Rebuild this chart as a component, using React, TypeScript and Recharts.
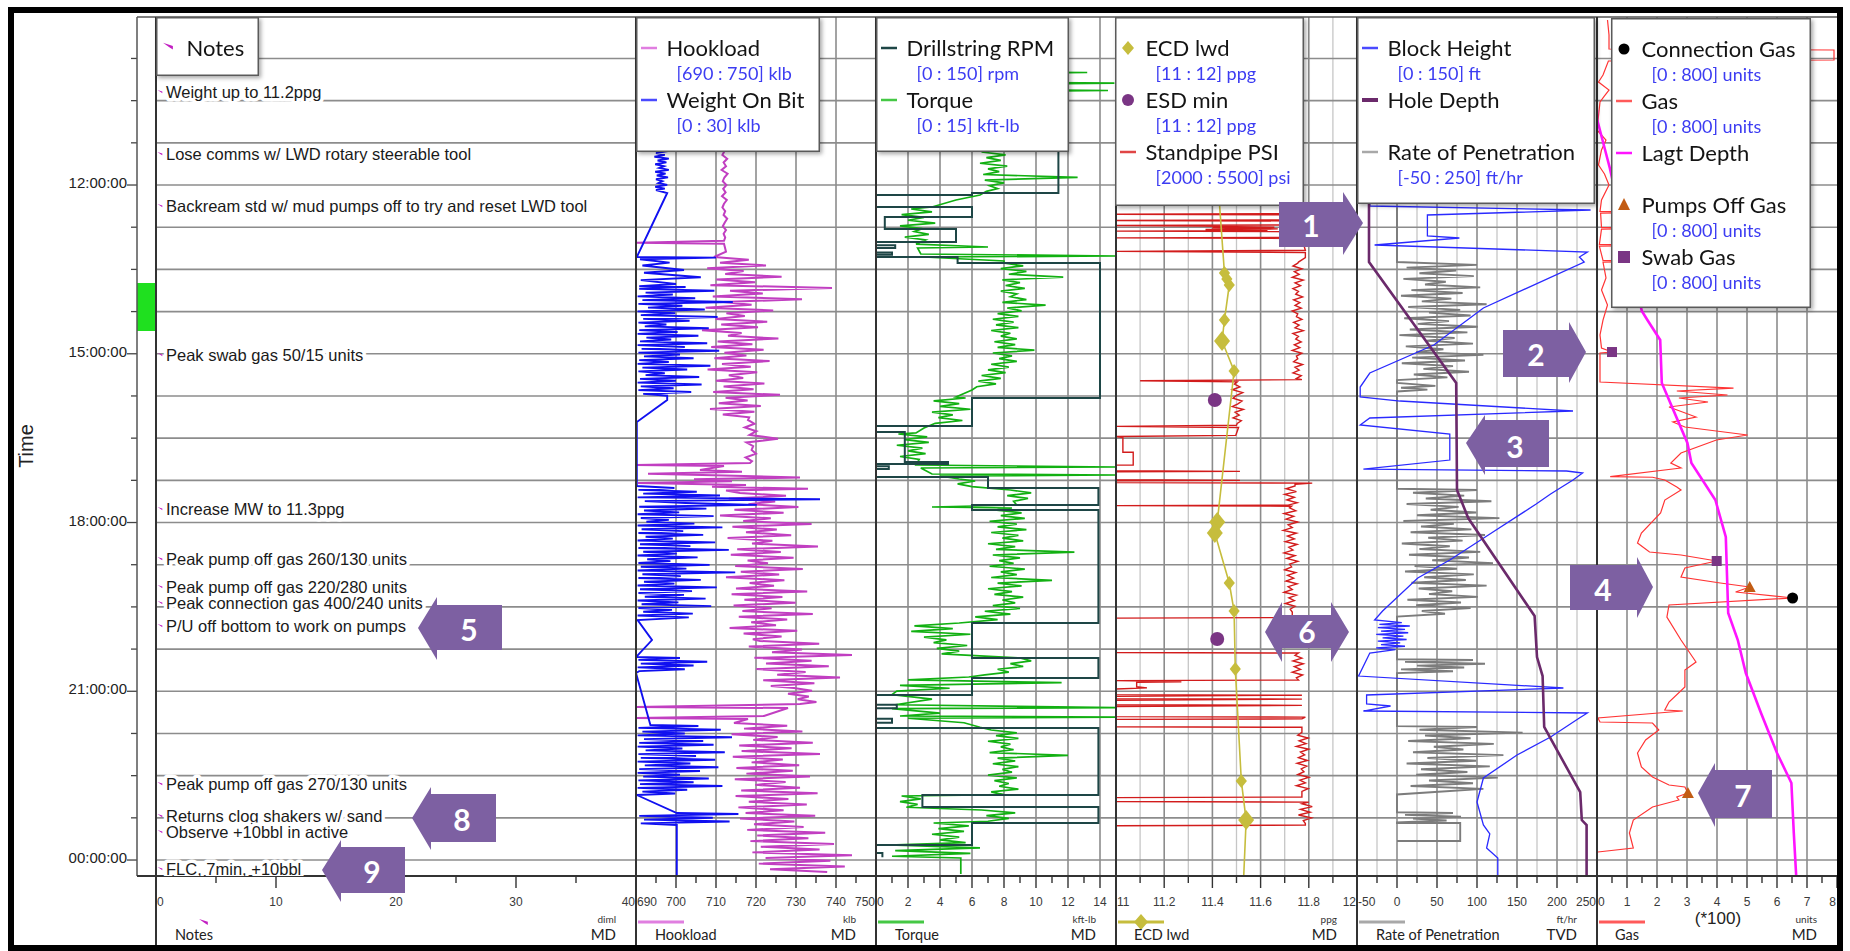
import React from 'react'
import { ComposedChart, Line, Scatter, XAxis, YAxis, ReferenceLine, ReferenceArea } from 'recharts'

// ---------- page / track geometry ----------
const W = 1850
const H = 951
const PLOT_TOP = 17
const PLOT_BOTTOM = 876
const AXIS_H = 30
const FONT_UI = 'Lato, "Noto Sans", sans-serif'
const FONT_LOG = '"Liberation Sans", Arial, sans-serif'

// time in decimal hours, 24 = midnight
const T0 = 9.013
const T1 = 24.284
const gridTimes = [9.75, 10.5, 11.25, 12, 12.75, 13.5, 14.25, 15, 15.75, 16.5, 17.25, 18, 18.75, 19.5, 20.25, 21, 21.75, 22.5, 23.25, 24]
const clockLabels = [12, 15, 18, 21, 24]
const activeSpan = [13.742, 14.595]

type Pt = { t: number; v: number }
const pts = (pairs: number[][]): Pt[] => pairs.map(([t, v]) => ({ t, v }))
// evenly sampled log segment: start time (h), sample interval (min), readings
const run = (t0: number, dtMin: number, vals: number[]): Pt[] => vals.map((v, i) => ({ t: t0 + (i * dtMin) / 60, v }))

// ---------- notes ----------
const noteTimes = [10.346, 11.449, 12.373, 15.022, 17.76, 18.649, 19.146, 19.431, 19.84, 22.649, 23.218, 23.502, 24.16]
const noteTexts = [
  'Weight up to 11.2ppg',
  'Lose comms w/ LWD rotary steerable tool',
  'Backream std w/ mud pumps off to try and reset LWD tool',
  'Peak swab gas 50/15 units',
  'Increase MW to 11.3ppg',
  'Peak pump off gas 260/130 units',
  'Peak pump off gas 220/280 units',
  'Peak connection gas 400/240 units',
  'P/U off bottom to work on pumps',
  'Peak pump off gas 270/130 units',
  'Returns clog shakers w/ sand',
  'Observe +10bbl in active',
  'FLC, 7min, +10bbl',
]
const notes = noteTimes.map((t, i) => ({ t, v: 0, text: noteTexts[i] }))

// ---------- hookload track ----------
const hookload: Pt[] = [
  ...pts([[9.013, 712.2], [11.413, 712.0]]),
  ...run(11.466, 4, [711.6, 712.8, 711.9, 712.5, 711.4, 712.9, 712.1, 711.7, 712.6, 711.8, 712.4, 711.5, 712.7, 712.0, 711.6, 712.3, 711.9, 712.8, 712.2, 711.7, 712.5, 711.9, 712.3]),
  ...pts([[12.991, 712.0], [13.026, 690], [13.044, 712], [13.186, 712.5]]),
  ...run(13.28, 3, [709.5, 718.2, 711.0, 722.5, 707.8, 716.9, 712.3, 726.4, 710.1, 719.8, 708.6, 739.0, 713.5, 721.7, 709.2, 731.5, 711.8, 718.9, 707.4, 724.3, 712.6, 717.2, 709.9, 722.8, 711.3, 720.5, 706.5, 716.4, 713.0, 725.6, 710.4, 719.1, 708.8, 721.9, 712.1, 717.6, 709.6, 723.4, 711.5, 718.7, 707.9, 720.3, 713.2, 716.8, 710.0, 722.1, 711.9, 719.4, 709.3, 726.0, 712.4, 717.9, 710.7, 721.2, 708.5, 719.6, 711.7, 718.3]),
  ...run(16.177, 4, [718.0, 719.6, 717.2, 720.1, 718.4, 725.5, 717.6, 719.3, 718.9, 720.0, 717.4, 719.0]),
  ...pts([[16.942, 718.5], [16.977, 690], [16.995, 712]]),
  ...run(17.066, 2, [706.0, 716.5, 693.0, 712.0, 731.0, 704.5, 714.0, 690.5, 717.5, 709.0, 733.0, 712.5]),
  ...run(17.475, 3, [716.0, 727.5, 713.2, 724.8, 718.1, 730.6, 714.6, 726.9, 711.0, 723.7, 716.8, 733.9, 714.1, 725.2, 717.5, 728.8, 712.9, 724.1, 719.0, 735.5, 715.3, 726.2, 713.7, 729.4, 717.9, 723.0, 714.8, 731.7, 716.2, 725.8, 712.5, 727.1, 718.4, 724.5, 715.0, 732.8, 713.9, 726.6, 717.1, 729.9, 714.4, 723.9, 716.6, 734.2, 715.7, 727.8, 718.8, 725.0, 713.4, 730.3, 716.9, 726.4, 719.2]),
  ...run(20.106, 3, [721.0, 735.8, 718.2, 731.5, 724.0, 744.0, 719.6, 733.9, 722.5, 738.2, 720.1, 732.4, 725.3, 741.0, 721.8, 734.6, 723.7]),
  ...run(20.942, 3, [729.5, 734.0, 728.0, 733.2, 730.4, 735.1]),
  ...pts([[21.226, 731], [21.28, 690], [21.298, 728], [21.44, 722], [21.475, 690], [21.493, 718]]),
  ...run(21.564, 3, [714.5, 727.8, 717.0, 731.6, 713.9, 725.4, 719.3, 734.2, 715.8, 728.9, 716.4, 736.0, 714.2, 726.7, 718.9, 730.8, 715.1, 729.2, 717.6, 733.5, 714.7, 727.4, 719.8, 731.0, 716.3, 735.4, 714.9, 728.1, 718.2, 732.7, 715.6, 726.9, 717.4, 734.8, 716.0, 729.6, 719.5, 731.9, 717.8, 737.3, 720.3, 733.1, 718.6, 739.5, 721.2, 735.9, 719.1, 744.0, 722.4, 738.6, 720.7, 742.2, 723.5, 737.8]),
]

const weightOnBit: Pt[] = [
  ...pts([[9.013, 3.0]]),
  ...run(11.265, 2, [3.1, 2.4, 3.9, 2.6, 4.0, 2.5, 3.6, 2.3, 4.1, 2.7, 3.8, 2.4, 3.5, 2.9, 4.1, 2.4, 3.7, 2.6, 4.0, 2.5, 3.3, 2.8, 3.9, 2.4, 3.6]),
  ...pts([[12.089, 2.5], [12.142, 3.9], [13.28, 0.1], [13.29, 10.0], [13.32, 0.5], [13.38, 4.2], [13.43, 0.8], [13.51, 6.0], [13.56, 1.0], [13.64, 8.1], [13.69, 0.6], [13.76, 5.0], [13.8, 0.4]]),
  ...run(13.813, 2, [6.2, 0.4, 9.8, 1.2, 4.6, 0.2, 7.4, 0.8, 12.1, 0.3, 5.8, 1.5, 8.6, 0.2, 4.9, 0.6, 10.2, 0.9, 6.7, 0.3, 3.8, 1.1, 9.1, 0.4, 5.2, 0.2, 7.8, 1.3, 4.4, 0.5, 8.9, 0.2, 6.1, 0.7, 10.4, 0.3, 5.5, 1.0, 7.2, 0.4, 4.1, 0.2, 9.3, 0.8, 6.4, 0.3, 3.6, 1.2, 7.9, 0.5, 5.0, 0.2, 8.2, 0.6, 4.7, 0.3, 6.9, 0.9, 3.9]),
  ...pts([[15.822, 3.9], [16.213, 0.1], [17.351, 0.1]]),
  ...run(17.386, 2, [4.8, 0.3, 7.6, 0.9, 10.5, 0.2, 23.0, 1.1, 6.2, 15.1, 0.4, 8.8, 1.0, 5.4, 0.2, 9.7, 0.6, 4.1, 1.3, 7.3, 0.2, 10.8, 0.7, 5.9, 0.3, 8.4, 1.2, 4.6, 0.2, 9.9, 0.5, 6.8, 0.3, 11.6, 0.9, 5.1, 0.2, 7.7, 1.4, 4.3, 0.3, 9.2, 0.6, 6.3, 0.2, 12.4, 0.8, 5.6, 0.3, 8.1, 1.0, 4.8, 0.2, 10.1, 0.5, 7.0, 0.3, 6.0, 1.1, 8.7, 0.2, 5.3, 0.7, 9.4, 0.3, 4.5, 0.9, 7.1, 0.2, 6.6]),
  ...pts([[19.733, 0.2], [20.089, 2.0], [20.391, 0]]),
  ...run(20.409, 2, [5.5, 0.3, 8.9, 0.6, 7.2, 0.2, 6.1, 0.4]),
  ...pts([[20.675, 0], [21.6, 1.8]]),
  ...run(21.617, 2, [7.8, 0.3, 10.6, 0.8, 6.1, 0.2, 12.0, 1.0, 8.4, 0.4, 9.7, 0.2, 5.8, 1.2, 11.1, 0.3, 7.5, 0.6, 9.9, 0.2, 6.8, 1.1, 10.3, 0.4, 8.0, 0.2, 5.5, 0.9, 9.1, 0.3, 7.2, 0.5, 10.8, 0.2, 6.4, 0.8, 4.9]),
  ...pts([[22.844, 0.1], [23.164, 5.1]]),
  ...run(23.182, 2, [12.8, 0.4, 9.6, 1.0, 11.7, 0.6]),
  ...pts([[23.377, 5.1], [24.284, 5.1]]),
]

// ---------- torque track ----------
const drillstringRpm = pts([
  [9.013, 114], [12.142, 114], [12.142, 60], [12.177, 60], [12.177, 0], [12.391, 0], [12.391, 60], [12.569, 60], [12.569, 5.5], [12.782, 5.5], [12.782, 50], [13.013, 50], [13.013, 0], [13.07, 0], [13.07, 12], [13.12, 12], [13.12, 0], [13.2, 0], [13.2, 10], [13.24, 10], [13.24, 0], [13.28, 0], [13.28, 51], [13.386, 51], [13.386, 140], [15.786, 140], [15.786, 60], [16.284, 60], [16.284, 0], [16.391, 0], [16.391, 18], [16.924, 18], [16.924, 45], [16.96, 45], [16.96, 0], [17.0, 0], [17.0, 8], [17.05, 8], [17.05, 0], [17.191, 0], [17.191, 70], [17.386, 70], [17.386, 139], [17.689, 139], [17.689, 60], [17.777, 60], [17.777, 139], [19.786, 139], [19.786, 60], [20.409, 60], [20.409, 139], [20.764, 139], [20.764, 60], [21.066, 60], [21.066, 0], [21.24, 0], [21.24, 13], [21.3, 13], [21.3, 0], [21.49, 0], [21.49, 10], [21.56, 10], [21.56, 0], [21.653, 0], [21.653, 139], [22.844, 139], [22.844, 29], [23.057, 29], [23.057, 139], [23.342, 139], [23.342, 60], [23.733, 60], [23.733, 0], [23.875, 0], [23.875, 4], [23.95, 4],
])

const torque: Pt[] = [
  ...pts([[9.013, 7.0], [9.9, 7.2], [9.99, 7.0], [10.0, 13.2], [10.02, 7.0], [10.17, 7.4], [10.19, 14.9], [10.21, 7.1], [10.3, 7.3], [10.32, 14.5], [10.34, 7.0], [11.37, 7.4]]),
  ...run(11.413, 3, [6.6, 8.1, 6.9, 7.8, 6.5, 8.2, 7.0, 7.7, 6.7, 12.6, 6.8, 8.0, 7.1, 7.6, 6.9]),
  ...pts([[12.177, 6.5], [12.266, 5.0], [12.391, 3.5]]),
  ...run(12.426, 3, [2.2, 3.5, 1.6, 3.0, 2.0, 3.7, 1.5, 2.9, 2.4, 3.3, 1.8, 3.1]),
  ...pts([[13.049, 2.5], [13.102, 7.0], [13.12, 2.6], [13.226, 2.8], [13.262, 15.0], [13.28, 3.0], [13.351, 8.0]]),
  ...run(13.386, 3, [8.0, 9.2, 7.8, 9.4, 8.3, 11.7, 7.9, 9.0, 8.1, 9.3, 7.8, 8.8, 8.4, 9.4, 7.9, 10.6, 8.2, 9.1, 7.6, 8.9, 7.3, 8.6, 7.5, 8.9, 7.2, 8.4, 7.8, 8.8, 7.4, 8.7, 7.6, 9.9, 7.3, 8.5, 7.7, 8.8, 7.2, 8.3, 7.0, 8.1, 6.6, 7.8, 6.4, 7.5, 6.3]),
  ...pts([[15.644, 6.0], [15.769, 5.0]]),
  ...run(15.786, 3, [5.6, 3.6, 5.2, 4.0, 5.9, 3.5, 4.8, 3.9, 5.4, 3.7]),
  ...pts([[16.32, 3.0], [16.408, 2.5]]),
  ...run(16.426, 3, [1.4, 3.2, 1.8, 3.3, 1.3, 2.9, 2.0, 3.1, 1.5, 2.7]),
  ...pts([[16.977, 2.5], [17.013, 15.0], [17.031, 2.8], [17.137, 3.5], [17.155, 15.0], [17.173, 4.0], [17.226, 5.2]]),
  ...run(17.262, 3, [6.2, 5.1, 6.0]),
  ...run(17.422, 3, [8.4, 9.7, 8.2, 9.5, 8.6]),
  ...pts([[17.689, 8.8], [17.724, 3.5], [17.742, 8.5]]),
  ...run(17.777, 3, [7.4, 9.1, 7.8, 9.3, 7.1, 8.8, 7.6, 9.4, 7.2, 8.9, 7.9, 9.2, 7.0, 8.7, 7.5, 12.4, 7.3, 9.0, 7.7, 8.6, 7.1, 9.3, 7.8, 8.8, 7.2, 11.0, 7.6, 9.1, 7.0, 8.5, 7.4, 9.2, 7.9, 8.7, 7.3, 9.0, 6.8, 8.4, 6.2, 7.6]),
  ...run(19.786, 3, [5.2, 2.4, 4.8, 2.2, 5.9, 3.0, 4.4, 3.6, 5.7, 3.8, 5.2, 4.1]),
  ...run(20.409, 3, [9.0, 9.7, 8.4, 9.2, 7.6, 8.3, 6.8]),
  ...run(20.746, 3, [5.8, 2.0, 11.6, 1.5, 4.6, 1.3]),
  ...pts([[21.06, 1.0], [21.14, 3.5], [21.24, 1.2], [21.29, 15.0], [21.31, 1.0], [21.39, 4.0], [21.44, 1.5], [21.46, 15.0], [21.48, 2.0], [21.56, 5.5], [21.64, 6.5]]),
  ...run(21.689, 3, [7.2, 8.8, 7.5, 8.9, 7.0, 8.4, 7.8, 8.6, 7.1, 12.0, 7.6, 8.7, 7.3, 8.9, 7.9, 8.5, 7.0, 8.8, 7.4, 8.3, 7.7, 8.9, 7.2, 8.0]),
  ...run(22.862, 3, [1.6, 2.8, 1.5, 2.6, 1.9]),
  ...run(23.111, 3, [6.6, 8.7, 6.9, 8.3, 7.0]),
  ...run(23.342, 3, [3.6, 5.8, 3.9, 5.5, 3.5, 5.2, 4.0, 5.6]),
  ...run(23.733, 3, [0.8, 6.5, 1.2, 5.9, 1.0]),
  ...pts([[23.964, 5.3], [24.25, 5.3]]),
]

// ---------- ECD / pressure track ----------
const ecdLwd = pts([
  [9.013, 11.41], [12.373, 11.43], [13.564, 11.45], [13.777, 11.47], [14.4, 11.45], [14.773, 11.44], [15.306, 11.49], [17.991, 11.42], [18.186, 11.41], [19.075, 11.47], [19.573, 11.49], [20.604, 11.495], [22.595, 11.52], [23.289, 11.54], [24.284, 11.53],
])
// lwd samples (time, ppg, marker size class)
const ecdSamples = [
  [13.564, 11.45, 1], [13.67, 11.46, 1], [13.777, 11.47, 1], [14.4, 11.45, 1], [14.773, 11.44, 2], [15.306, 11.49, 1], [17.991, 11.42, 2], [18.186, 11.41, 2], [19.075, 11.47, 1], [19.573, 11.49, 1], [20.604, 11.495, 1], [22.595, 11.52, 1], [23.289, 11.54, 2],
].map(([t, v, s]) => ({ t, v, s }))
const esdMin = pts([[15.822, 11.41], [20.071, 11.42]])

const standpipe: Pt[] = [
  ...pts([[9.013, 4100], [12.31, 4100], [12.37, 4700], [12.51, 4700], [12.52, 2000], [12.53, 4700], [12.62, 4650], [12.63, 2000], [12.64, 4700], [12.71, 4700], [12.72, 2000], [12.73, 3200], [12.75, 4300], [12.76, 3400], [12.78, 4350], [12.79, 3300], [12.81, 4200], [12.82, 2000], [12.83, 4700], [12.93, 4700], [12.94, 2000], [12.95, 4700], [13.16, 4750], [13.18, 2000], [13.2, 4750], [13.29, 4750], [13.37, 4650]]),
  ...run(13.39, 3, [4640, 4570, 4700, 4590, 4660, 4560, 4720, 4600, 4680, 4570, 4650, 4610, 4710, 4580, 4670, 4600, 4690, 4560, 4640, 4620, 4700, 4580, 4660, 4600, 4720, 4570, 4650, 4610, 4690, 4590, 4670, 4560, 4700, 4620, 4640, 4580, 4710, 4600, 4660, 4570, 4690, 4620]),
  ...pts([[15.46, 4700], [15.48, 2350], [15.5, 3760]]),
  ...run(15.54, 3, [3720, 3800, 3690, 3840, 3750, 3700, 3830, 3770, 3690, 3850, 3730, 3790, 3700, 3820, 3760]),
  ...pts([[16.27, 3750], [16.29, 2000], [16.31, 3780], [16.45, 3740], [16.47, 2000], [16.49, 2100], [16.75, 2100], [16.75, 2250], [16.98, 2250], [16.98, 2000], [17.08, 2000], [17.09, 3800], [17.1, 2000], [17.24, 2000], [17.25, 3800], [17.26, 2000], [17.29, 2000], [17.3, 4850], [17.32, 4600]]),
  ...run(17.35, 3, [4600, 4470, 4620, 4450, 4590, 4480, 4630]),
  ...pts([[17.69, 4500], [17.7, 2000], [17.71, 4550]]),
  ...run(17.74, 3, [4520, 4610, 4440, 4580, 4470, 4640, 4500, 4560, 4430, 4620, 4490, 4590, 4460, 4630, 4510, 4570, 4440, 4600, 4480, 4640, 4520, 4550, 4450, 4610, 4490, 4580, 4470, 4630, 4500, 4560, 4440, 4620, 4510, 4590, 4460, 4600, 4530]),
  ...pts([[19.59, 4560], [19.69, 4560], [19.7, 2000], [20.31, 2000], [20.32, 4650]]),
  ...run(20.36, 3, [4600, 4700, 4570, 4720, 4590, 4680, 4560, 4710, 4620]),
  ...pts([[20.8, 4650], [20.81, 2000], [20.83, 2950], [20.84, 2300], [20.92, 2300], [20.94, 2450], [20.96, 2000], [21.06, 2000], [21.07, 4700], [21.09, 2000], [21.13, 2000], [21.14, 4700], [21.16, 2000], [21.24, 2000], [21.25, 4700], [21.27, 2000], [21.45, 2000], [21.46, 4750], [21.49, 4700], [21.5, 2000], [21.63, 2000], [21.64, 4700], [21.69, 4700]]),
  ...run(21.73, 3, [4700, 4640, 4790, 4660, 4760, 4620, 4800, 4680, 4740, 4650, 4780, 4630, 4770, 4690, 4730, 4640, 4800, 4670, 4750, 4620, 4790, 4700]),
  ...pts([[22.82, 4700], [22.88, 4700], [22.89, 2000], [22.96, 2000], [22.97, 4800]]),
  ...run(23.0, 3, [4700, 4850, 4680, 4820, 4650, 4840, 4720]),
  ...pts([[23.35, 4750], [23.38, 4750], [23.39, 2000], [23.43, 2000]]),
]

// ---------- ROP / block / depth track ----------
const blockHeight = pts([
  [9.013, 8], [12.373, 8], [12.444, 146], [12.533, 44], [12.906, 44], [12.942, 64], [13.066, 11], [13.191, 144], [13.28, 139], [13.369, 142], [14.186, 79], [14.844, 48], [15.342, 8], [15.591, 2], [15.768, 2], [15.84, 27], [16.017, 135], [16.142, 8], [16.266, 2], [16.426, 58], [16.889, 58], [17.049, 4], [17.084, 131], [17.12, 141], [17.244, 135], [17.493, 121], [17.671, 112], [18.169, 85], [18.666, 58], [18.986, 38], [19.573, 16], [19.733, 11],
  [19.78, 28], [19.81, 14], [19.84, 33], [19.87, 13], [19.9, 30], [19.93, 15], [19.96, 32], [19.99, 12], [20.02, 29], [20.05, 16], [20.08, 31], [20.11, 13], [20.14, 27], [20.17, 15], [20.2, 30], [20.23, 12], [20.26, 24],
  [20.32, 8], [20.729, 1], [20.942, 129], [21.066, 6], [21.226, 6], [21.262, 21], [21.351, 4], [21.386, 144], [21.475, 139], [21.813, 121], [22.133, 100], [22.542, 79], [22.969, 75], [23.377, 79], [23.537, 83], [23.786, 81], [23.964, 88], [24.284, 88],
])

const holeDepth = pts([
  [9.013, 13015], [12.373, 13015], [13.369, 13015], [15.52, 13124], [17.422, 13125], [17.92, 13139], [19.662, 13222], [20.391, 13225], [20.729, 13232], [21.635, 13234], [22.791, 13279], [23.289, 13281], [23.377, 13287], [24.284, 13287],
])

const rop: Pt[] = [
  ...pts([[12.4, 0], [13.35, 0]]),
  ...run(13.369, 3, [0, 100, 12, 74, 28, 96, 8, 61, 35, 104, 18, 82, 5, 68, 31, 112, 14, 79, 40, 92, 9, 65, 26, 101, 16, 88, 3, 72, 37, 95, 11, 58, 24, 108, 19, 85, 6, 70, 33, 90, 21, 63, 0, 0]),
  ...run(15.57, 2, [48, 5, 38, 0]),
  ...pts([[15.72, 0], [17.4, 0]]),
  ...run(17.422, 3, [100, 20, 84, 36, 118, 12, 77, 42, 99, 25, 128, 8, 71, 30, 93, 17, 110, 39, 82, 6, 66, 28, 104, 15, 90, 44, 120, 22, 75, 10, 96, 34, 86, 18, 112, 27, 69, 40, 101, 13, 80, 24, 92, 31, 60, 0]),
  ...pts([[19.7, 0], [20.43, 0]]),
  ...run(20.444, 2, [95, 10, 110, 25, 84, 5, 70, 0]),
  ...pts([[20.72, 0], [21.62, 0]]),
  ...run(21.635, 3, [100, 28, 157, 35, 92, 14, 121, 46, 83, 20, 133, 38, 99, 12, 116, 30, 88, 24, 126, 40, 95, 17, 108, 52, 0]),
  ...pts([[22.88, 0], [23.15, 0]]),
  ...run(23.164, 2, [70, 10, 80, 20, 62, 0]),
  ...pts([[23.342, 0], [23.342, 79], [23.662, 79], [23.662, 0]]),
]

// ---------- gas track ----------
const gas = pts([
  [9.066, 35], [9.333, 40], [9.582, 40], [9.6, 790], [9.777, 790], [9.795, 38], [10.044, 20], [10.169, 5], [10.311, 40], [10.417, 25], [10.524, 10], [11.022, 0], [11.2, 30], [11.377, 15], [11.644, 5], [11.804, 25], [12.0, 40], [12.266, 15], [12.47, 10], [12.48, 260], [12.5, 12], [12.754, 15], [12.764, 240], [12.784, 15], [13.056, 8], [13.066, 280], [13.086, 8], [13.341, 20], [13.351, 220], [13.371, 20], [13.653, 30], [13.866, 15], [14.133, 35], [14.4, 20], [14.666, 10], [14.897, 15], [14.969, 50], [14.986, 10], [15.502, 10], [15.609, 455], [15.662, 266], [15.733, 435], [15.786, 273], [15.857, 370], [15.946, 240], [16.124, 330], [16.213, 253], [16.302, 293], [16.444, 502], [16.533, 398], [16.764, 280], [16.942, 246], [17.031, 280], [17.185, 44], [17.195, 185], [17.244, 226], [17.369, 266], [17.422, 280], [17.6, 226], [17.831, 212], [18.186, 148], [18.364, 135], [18.524, 175], [18.577, 280], [18.684, 399], [18.809, 293], [18.969, 280], [19.075, 411], [19.146, 509], [19.235, 462], [19.342, 652], [19.466, 240], [19.68, 233], [20.089, 280], [20.48, 330], [20.622, 293], [20.924, 293], [21.191, 240], [21.333, 226], [21.351, 286], [21.475, 3], [21.546, 10], [21.564, 185], [21.689, 206], [21.866, 162], [22.097, 135], [22.346, 148], [22.524, 185], [22.666, 240], [22.702, 293], [22.809, 303], [22.88, 266], [22.933, 273], [23.057, 185], [23.289, 121], [23.52, 108], [23.786, 121], [23.857, 3],
])
const lagtDepth = pts([
  [10.666, 13000], [10.826, 13000], [11.697, 13016], [14.24, 13056], [14.4, 13063], [14.755, 13079], [15.52, 13081], [16.586, 13113], [16.942, 13118], [17.6, 13148], [18.257, 13161], [19.609, 13164], [20.089, 13176], [20.675, 13186], [21.386, 13205], [22.097, 13225], [22.631, 13243], [23.52, 13246], [24.284, 13249],
])
const swabGas = pts([[14.969, 50], [18.684, 399]])
const pumpsOffGas = pts([[19.146, 509], [22.809, 303]])
const connectionGas = pts([[19.342, 652]])

// ---------- bottom scales ----------
const notesTicks = [0, 5, 10, 15, 20, 25, 30, 35, 40]
const notesLabels = [0, 10, 20, 30, 40]
const hookTicks = [690, 695, 700, 705, 710, 715, 720, 725, 730, 735, 740, 745, 750]
const hookLabels = [690, 700, 710, 720, 730, 740, 750]
const hookGrid = [700, 710, 720, 730, 740]
const torqueTicks = [0, 1, 2, 3, 4, 5, 6, 7, 8, 9, 10, 11, 12, 13, 14, 15]
const torqueLabels = [0, 2, 4, 6, 8, 10, 12, 14]
const torqueGrid = [2, 4, 6, 8, 10, 12, 14]
const ecdTicks = [11, 11.1, 11.2, 11.3, 11.4, 11.5, 11.6, 11.7, 11.8, 11.9, 12]
const ecdLabels = [11, 11.2, 11.4, 11.6, 11.8, 12]
const ecdGrid = [11.2, 11.4, 11.6, 11.8]
const ecdGridMinor = [11.1, 11.3, 11.5, 11.7, 11.9]
const ropTicks = [-50, -25, 0, 25, 50, 75, 100, 125, 150, 175, 200, 225, 250]
const ropLabels = [-50, 0, 50, 100, 150, 200, 250]
const ropGrid = [0, 50, 100, 150, 200]
const ropGridMinor = [-25, 25, 75, 125, 175, 225]
const gasTicks = [0, 50, 100, 150, 200, 250, 300, 350, 400, 450, 500, 550, 600, 650, 700, 750, 800]
const gasLabels = [0, 100, 200, 300, 400, 500, 600, 700, 800]
const gasGrid = [100, 200, 300, 400, 500, 600, 700]

const fmtNum = (v: number) => (Number.isInteger(v) ? String(v) : v.toFixed(1))
const fmtClock = (h: number) => `${String(h % 24).padStart(2, '0')}:00:00`
const near = (a: number, b: number) => Math.abs(a - b) < 1e-6

function bottomTick(labels: number[], domain: [number, number], fmt: (v: number) => string) {
  return (props: any) => {
    const { x, y, payload } = props
    const v: number = payload.value
    const major = labels.some((l) => near(l, v))
    const anchor = near(v, domain[0]) ? 'start' : near(v, domain[1]) ? 'end' : 'middle'
    const tx = anchor === 'start' ? x + 1 : anchor === 'end' ? x - 1 : x
    return (
      <g>
        <line x1={x} x2={x} y1={y} y2={y + (major ? 12 : 7)} stroke="#333" strokeWidth={1.4} />
        {major && (
          <text x={tx} y={y + 30} textAnchor={anchor} fontSize={12} fontFamily={FONT_LOG} fill="#3a3a3a">
            {fmt(v)}
          </text>
        )}
      </g>
    )
  }
}

function TimeTick(props: any) {
  const { x, y, payload } = props
  const h: number = payload.value
  const major = clockLabels.some((c) => near(c, h))
  return (
    <g>
      <line x1={x - (major ? 10 : 6)} x2={x} y1={y} y2={y} stroke="#444" strokeWidth={1.3} />
      {major && (
        <text x={x - 10} y={y + 3} textAnchor="end" fontSize={15} fontFamily={FONT_LOG} fill="#222">
          {fmtClock(h)}
        </text>
      )}
    </g>
  )
}

// ---------- marker shapes ----------
const flagPath = (x: number, y: number, s: number) => `M${x},${y - s * 0.5}L${x + s * 2.2},${y + s * 0.2}L${x + s * 2.2},${y + s}L${x + s * 1.4},${y + s * 0.5}Z`

function NoteMark(p: any) {
  const { cx, cy, payload } = p
  return (
    <g>
      <text x={cx + 10} y={cy} dy="0.36em" fontSize={16.5} fontFamily={FONT_LOG} fill="#1a1a1a" stroke="#fff" strokeWidth={7} strokeLinejoin="round" paintOrder="stroke">
        {payload.text}
      </text>
      <path d={flagPath(cx + 1.5, cy - 1, 2.2)} fill="#c21fc2" />
    </g>
  )
}
function EcdMark(p: any) {
  const { cx, cy, payload } = p
  const s = payload.s === 2 ? 10 : 7
  return <path d={`M${cx},${cy - s}L${cx + s * 0.8},${cy}L${cx},${cy + s}L${cx - s * 0.8},${cy}Z`} fill="#c6bd3d" />
}
const EsdMark = (p: any) => <circle cx={p.cx} cy={p.cy} r={7} fill="#7a3584" />
const SwabMark = (p: any) => <rect x={p.cx - 5} y={p.cy - 5} width={10} height={10} fill="#7a3584" />
const PumpsOffMark = (p: any) => <path d={`M${p.cx},${p.cy - 6}L${p.cx + 6},${p.cy + 5}L${p.cx - 6},${p.cy + 5}Z`} fill="#c25c14" />
const ConnectionMark = (p: any) => <circle cx={p.cx} cy={p.cy} r={5.5} fill="#000" />

// ---------- one log track ----------
type AxisDef = { id: string; domain: [number, number] }
function Track(props: {
  left: number
  width: number
  domain: [number, number]
  ticks: number[]
  labels: number[]
  fmt?: (v: number) => string
  grid?: number[]
  minorGrid?: number[]
  extraAxes?: AxisDef[]
  children?: React.ReactNode
}) {
  const { left, width, domain, ticks, labels, fmt = fmtNum, grid = [], minorGrid = [], extraAxes = [], children } = props
  return (
    <div style={{ position: 'absolute', left, top: 0 }}>
      <ComposedChart layout="vertical" width={width} height={H} margin={{ top: PLOT_TOP, right: 0, bottom: H - PLOT_BOTTOM - AXIS_H, left: 0 }}>
        <YAxis type="number" dataKey="t" domain={[T0, T1]} allowDataOverflow hide />
        <XAxis
          xAxisId="axis"
          type="number"
          dataKey="v"
          domain={domain}
          allowDataOverflow
          ticks={ticks}
          interval={0}
          height={AXIS_H}
          tickSize={0}
          tickMargin={0}
          tickLine={false}
          axisLine={{ stroke: '#333', strokeWidth: 2 }}
          tick={bottomTick(labels, domain, fmt)}
        />
        {extraAxes.map((a) => (
          <XAxis key={a.id} xAxisId={a.id} type="number" dataKey="v" domain={a.domain} allowDataOverflow hide height={0} />
        ))}
        {minorGrid.map((v) => (
          <ReferenceLine key={'m' + v} xAxisId="axis" x={v} stroke="#c6c6c6" strokeWidth={1.3} />
        ))}
        {grid.map((v) => (
          <ReferenceLine key={'g' + v} xAxisId="axis" x={v} stroke="#8c8c8c" strokeWidth={1.6} />
        ))}
        {gridTimes.map((t) => (
          <ReferenceLine key={'h' + t} xAxisId="axis" y={t} stroke="#8c8c8c" strokeWidth={1.6} />
        ))}
        {children}
      </ComposedChart>
    </div>
  )
}

function TimeStrip() {
  return (
    <div style={{ position: 'absolute', left: 0, top: 0 }}>
      <ComposedChart layout="vertical" width={156} height={H} margin={{ top: PLOT_TOP, right: 0, bottom: H - PLOT_BOTTOM, left: 0 }}>
        <XAxis type="number" domain={[0, 1]} allowDataOverflow hide />
        <YAxis
          type="number"
          dataKey="t"
          domain={[T0, T1]}
          allowDataOverflow
          width={137}
          ticks={gridTimes}
          interval={0}
          tickSize={0}
          tickMargin={0}
          tickLine={false}
          axisLine={false}
          tick={TimeTick}
        />
        <ReferenceArea x1={0} x2={1} y1={activeSpan[0]} y2={activeSpan[1]} ifOverflow="visible" fill="#1fe01f" fillOpacity={1} stroke="none" />
      </ComposedChart>
    </div>
  )
}

// ---------- legend panels ----------
type Key = { name: string; range?: string; icon: 'line' | 'thick' | 'diamond' | 'dot' | 'bigdot' | 'triangle' | 'square' | 'flag'; color: string }
function KeyIcon({ icon, color, cy }: { icon: Key['icon']; color: string; cy: number }) {
  const cx = 13
  switch (icon) {
    case 'line':
      return <line x1={5} x2={21} y1={cy} y2={cy} stroke={color} strokeWidth={2.5} />
    case 'thick':
      return <line x1={5} x2={21} y1={cy} y2={cy} stroke={color} strokeWidth={4} />
    case 'diamond':
      return <path d={`M${cx},${cy - 7}L${cx + 6},${cy}L${cx},${cy + 7}L${cx - 6},${cy}Z`} fill={color} />
    case 'dot':
      return <circle cx={cx} cy={cy} r={6} fill={color} />
    case 'bigdot':
      return <circle cx={cx} cy={cy} r={5.5} fill={color} />
    case 'triangle':
      return <path d={`M${cx},${cy - 7}L${cx + 6},${cy + 5}L${cx - 6},${cy + 5}Z`} fill={color} />
    case 'square':
      return <rect x={cx - 6} y={cy - 6} width={12} height={12} fill={color} />
    default:
      return <path d={flagPath(7, cy - 3, 4.5)} fill={color} />
  }
}

function LegendPanel({ left, top, width, height, keys }: { left: number; top: number; width: number; height: number; keys: Key[] }) {
  return (
    <svg width={width + 4} height={height + 4} style={{ position: 'absolute', left, top, filter: 'drop-shadow(2px 2px 2px rgba(0,0,0,0.35))' }}>
      <rect x={0.75} y={0.75} width={width - 1.5} height={height - 1.5} fill="#fff" stroke="#5a5a5a" strokeWidth={1.5} />
      {keys.map((k, i) => {
        const cy = 31 + 52 * i
        return (
          <g key={k.name}>
            <KeyIcon icon={k.icon} color={k.color} cy={cy} />
            <text x={30.5} y={cy} dy="0.36em" fontSize={22} fontFamily={FONT_UI} fill="#141414">
              {k.name}
            </text>
            {k.range && (
              <text x={40.5} y={cy + 26} dy="0.36em" fontSize={18} fontFamily={FONT_UI} fill="#3c3cf2">
                {k.range}
              </text>
            )}
          </g>
        )
      })}
    </svg>
  )
}

// ---------- callout arrows ----------
type Callout = { n: string; dir: 'L' | 'R'; tip: number; base: number; end: number; b0: number; b1: number; h0: number; h1: number; mid: number; tx: number; ty: number }
const callouts: Callout[] = [
  { n: '1', dir: 'R', end: 1279, base: 1343, tip: 1363, b0: 202, b1: 247, h0: 192, h1: 255, mid: 223, tx: 1311, ty: 226 },
  { n: '2', dir: 'R', end: 1503, base: 1569, tip: 1586, b0: 330, b1: 377, h0: 322, h1: 383, mid: 352, tx: 1536, ty: 355 },
  { n: '3', dir: 'L', tip: 1466, base: 1485, end: 1549, b0: 420, b1: 467, h0: 415, h1: 475, mid: 443, tx: 1515, ty: 447 },
  { n: '4', dir: 'R', end: 1570, base: 1637, tip: 1653, b0: 565, b1: 610, h0: 557, h1: 618, mid: 587, tx: 1603, ty: 590 },
  { n: '5', dir: 'L', tip: 418, base: 437, end: 502, b0: 605, b1: 650, h0: 597, h1: 660, mid: 628, tx: 469, ty: 630 },
  { n: '7', dir: 'L', tip: 1698, base: 1715, end: 1772, b0: 770, b1: 818, h0: 763, h1: 827, mid: 793, tx: 1743, ty: 796 },
  { n: '8', dir: 'L', tip: 412, base: 431, end: 496, b0: 794, b1: 842, h0: 787, h1: 850, mid: 818, tx: 462, ty: 820 },
  { n: '9', dir: 'L', tip: 322, base: 341, end: 405, b0: 847, b1: 893, h0: 840, h1: 902, mid: 870, tx: 372, ty: 872 },
]

function calloutPath(c: Callout) {
  if (c.dir === 'R') {
    return `M${c.end},${c.b0}L${c.base},${c.b0}L${c.base},${c.h0}L${c.tip},${c.mid}L${c.base},${c.h1}L${c.base},${c.b1}L${c.end},${c.b1}Z`
  }
  return `M${c.tip},${c.mid}L${c.base},${c.h0}L${c.base},${c.b0}L${c.end},${c.b0}L${c.end},${c.b1}L${c.base},${c.b1}L${c.base},${c.h1}Z`
}

const ARROW = '#7d60a2'

function Footer({ left, right, name, nameX, unit, refName, icon, color }: { left: number; right: number; name: string; nameX: number; unit: string; refName: string; icon: string; color: string }) {
  return (
    <g>
      {icon === 'flag' ? (
        <path d={flagPath(199, 921, 4)} fill={color} />
      ) : (
        <line x1={left + 2} x2={left + 48} y1={922} y2={922} stroke={color} strokeWidth={3} />
      )}
      {icon === 'diamond' && <path d={`M${left + 25},914L${left + 32},922L${left + 25},930L${left + 18},922Z`} fill={color} />}
      <text x={nameX} y={940} fontSize={14.5} fontFamily={FONT_UI} fill="#222">
        {name}
      </text>
      <text x={right - 20} y={923} textAnchor="end" fontSize={10} fontFamily={FONT_UI} fill="#333">
        {unit}
      </text>
      <text x={right - 20} y={940} textAnchor="end" fontSize={15} fontFamily={FONT_UI} fill="#222">
        {refName}
      </text>
    </g>
  )
}

export default function App() {
  return (
    <div style={{ position: 'absolute', left: 0, top: 0, width: W, height: H, background: '#fff', overflow: 'hidden' }}>
      <TimeStrip />

      <Track left={156} width={480} domain={[0, 40]} ticks={notesTicks} labels={notesLabels}>
        <Scatter xAxisId="axis" data={notes} shape={NoteMark} isAnimationActive={false} />
      </Track>

      <Track left={636} width={240} domain={[690, 750]} ticks={hookTicks} labels={hookLabels} grid={hookGrid} extraAxes={[{ id: 'wob', domain: [0, 30] }]}>
        <Line xAxisId="axis" data={hookload} dataKey="v" type="linear" stroke="#c13fc1" strokeWidth={2} dot={false} isAnimationActive={false} />
        <Line xAxisId="wob" data={weightOnBit} dataKey="v" type="linear" stroke="#1010f0" strokeWidth={1.9} dot={false} isAnimationActive={false} />
      </Track>

      <Track left={876} width={240} domain={[0, 15]} ticks={torqueTicks} labels={torqueLabels} grid={torqueGrid} extraAxes={[{ id: 'rpm', domain: [0, 150] }]}>
        <Line xAxisId="axis" data={torque} dataKey="v" type="linear" stroke="#12b012" strokeWidth={1.7} dot={false} isAnimationActive={false} />
        <Line xAxisId="rpm" data={drillstringRpm} dataKey="v" type="linear" stroke="#1e4646" strokeWidth={2} dot={false} isAnimationActive={false} />
      </Track>

      <Track left={1116} width={241} domain={[11, 12]} ticks={ecdTicks} labels={ecdLabels} grid={ecdGrid} minorGrid={ecdGridMinor} extraAxes={[{ id: 'spp', domain: [2000, 5500] }]}>
        <Line xAxisId="spp" data={standpipe} dataKey="v" type="linear" stroke="#d21c1c" strokeWidth={1.4} dot={false} isAnimationActive={false} />
        <Line xAxisId="axis" data={ecdLwd} dataKey="v" type="linear" stroke="#c6bd3d" strokeWidth={1.6} dot={false} isAnimationActive={false} />
        <Scatter xAxisId="axis" data={ecdSamples} shape={EcdMark} isAnimationActive={false} />
        <Scatter xAxisId="axis" data={esdMin} shape={EsdMark} isAnimationActive={false} />
      </Track>

      <Track
        left={1357}
        width={240}
        domain={[-50, 250]}
        ticks={ropTicks}
        labels={ropLabels}
        grid={ropGrid}
        minorGrid={ropGridMinor}
        extraAxes={[
          { id: 'block', domain: [0, 150] },
          { id: 'depth', domain: [13000, 13300] },
        ]}
      >
        <Line xAxisId="axis" data={rop} dataKey="v" type="linear" stroke="#7c7c7c" strokeWidth={1.9} dot={false} isAnimationActive={false} />
        <Line xAxisId="block" data={blockHeight} dataKey="v" type="linear" stroke="#2a2aff" strokeWidth={1.3} dot={false} isAnimationActive={false} />
        <Line xAxisId="depth" data={holeDepth} dataKey="v" type="linear" stroke="#6b2a6b" strokeWidth={2.6} dot={false} isAnimationActive={false} />
      </Track>

      <Track left={1597} width={240} domain={[0, 800]} ticks={gasTicks} labels={gasLabels} grid={gasGrid} fmt={(v) => String(v / 100)} extraAxes={[{ id: 'lagt', domain: [13000, 13300] }]}>
        <Line xAxisId="axis" data={gas} dataKey="v" type="linear" stroke="#ff3434" strokeWidth={1.2} dot={false} isAnimationActive={false} />
        <Line xAxisId="lagt" data={lagtDepth} dataKey="v" type="linear" stroke="#ff14ff" strokeWidth={2.6} dot={false} isAnimationActive={false} />
        <Scatter xAxisId="axis" data={swabGas} shape={SwabMark} isAnimationActive={false} />
        <Scatter xAxisId="axis" data={pumpsOffGas} shape={PumpsOffMark} isAnimationActive={false} />
        <Scatter xAxisId="axis" data={connectionGas} shape={ConnectionMark} isAnimationActive={false} />
      </Track>

      {/* track frames, footers, axis title */}
      <svg width={W} height={H} style={{ position: 'absolute', left: 0, top: 0, pointerEvents: 'none' }}>
        <line x1={137} x2={1837} y1={PLOT_TOP} y2={PLOT_TOP} stroke="#555" strokeWidth={1.5} />
        <line x1={137} x2={137} y1={PLOT_TOP} y2={PLOT_BOTTOM} stroke="#555" strokeWidth={1.5} />
        <line x1={137} x2={156} y1={PLOT_BOTTOM} y2={PLOT_BOTTOM} stroke="#333" strokeWidth={2} />
        {[156, 636, 876, 1116, 1357, 1597].map((x) => (
          <line key={x} x1={x} x2={x} y1={PLOT_TOP} y2={946} stroke="#333" strokeWidth={2} />
        ))}
        <text x={26} y={446} transform="rotate(-90 26 446)" textAnchor="middle" dy="0.36em" fontSize={20} fontFamily={FONT_LOG} fill="#222">
          Time
        </text>
        <Footer left={156} right={636} name="Notes" nameX={175} unit="diml" refName="MD" icon="flag" color="#c21fc2" />
        <Footer left={636} right={876} name="Hookload" nameX={655} unit="klb" refName="MD" icon="line" color="#e07ee0" />
        <Footer left={876} right={1116} name="Torque" nameX={895} unit="kft-lb" refName="MD" icon="line" color="#45c845" />
        <Footer left={1116} right={1357} name="ECD lwd" nameX={1134} unit="ppg" refName="MD" icon="diamond" color="#c6bd3d" />
        <Footer left={1357} right={1597} name="Rate of Penetration" nameX={1376} unit="ft/hr" refName="TVD" icon="line" color="#a8a8a8" />
        <Footer left={1597} right={1837} name="Gas" nameX={1615} unit="units" refName="MD" icon="line" color="#ff5a5a" />
        <text x={1718} y={924} textAnchor="middle" fontSize={17} fontFamily={FONT_LOG} fill="#222">
          (*100)
        </text>
      </svg>

      <LegendPanel left={156} top={17} width={103} height={59} keys={[{ name: 'Notes', icon: 'flag', color: '#c21fc2' }]} />
      <LegendPanel
        left={636}
        top={17}
        width={184}
        height={135}
        keys={[
          { name: 'Hookload', range: '[690 : 750] klb', icon: 'line', color: '#e07ee0' },
          { name: 'Weight On Bit', range: '[0 : 30] klb', icon: 'line', color: '#4a4aff' },
        ]}
      />
      <LegendPanel
        left={876}
        top={17}
        width={193}
        height={135}
        keys={[
          { name: 'Drillstring RPM', range: '[0 : 150] rpm', icon: 'line', color: '#1e4646' },
          { name: 'Torque', range: '[0 : 15] kft-lb', icon: 'line', color: '#45c845' },
        ]}
      />
      <LegendPanel
        left={1115}
        top={17}
        width={189}
        height={189}
        keys={[
          { name: 'ECD lwd', range: '[11 : 12] ppg', icon: 'diamond', color: '#c6bd3d' },
          { name: 'ESD min', range: '[11 : 12] ppg', icon: 'dot', color: '#7a3584' },
          { name: 'Standpipe PSI', range: '[2000 : 5500] psi', icon: 'line', color: '#e04646' },
        ]}
      />
      <LegendPanel
        left={1357}
        top={17}
        width={238}
        height={187}
        keys={[
          { name: 'Block Height', range: '[0 : 150] ft', icon: 'line', color: '#4a4aff' },
          { name: 'Hole Depth', icon: 'thick', color: '#6b2a6b' },
          { name: 'Rate of Penetration', range: '[-50 : 250] ft/hr', icon: 'line', color: '#a8a8a8' },
        ]}
      />
      <LegendPanel
        left={1611}
        top={18}
        width={200}
        height={290}
        keys={[
          { name: 'Connection Gas', range: '[0 : 800] units', icon: 'bigdot', color: '#000' },
          { name: 'Gas', range: '[0 : 800] units', icon: 'line', color: '#ff5a5a' },
          { name: 'Lagt Depth', icon: 'line', color: '#ff14ff' },
          { name: 'Pumps Off Gas', range: '[0 : 800] units', icon: 'triangle', color: '#c25c14' },
          { name: 'Swab Gas', range: '[0 : 800] units', icon: 'square', color: '#7a3584' },
        ]}
      />

      {/* numbered callouts */}
      <svg width={W} height={H} style={{ position: 'absolute', left: 0, top: 0, pointerEvents: 'none' }}>
        {callouts.map((c) => (
          <g key={c.n}>
            <path d={calloutPath(c)} fill={ARROW} />
            <text x={c.tx} y={c.ty} dy="0.36em" textAnchor="middle" fontSize={30} fontWeight={700} fontFamily={FONT_UI} fill="#fff">
              {c.n}
            </text>
          </g>
        ))}
        <path d="M1265,632L1282,602L1282,615L1331,615L1331,602L1349,632L1331,662L1331,648L1282,648L1282,662Z" fill={ARROW} />
        <text x={1307} y={632} dy="0.36em" textAnchor="middle" fontSize={30} fontWeight={700} fontFamily={FONT_UI} fill="#fff">
          6
        </text>
      </svg>

      <div style={{ position: 'absolute', left: 8, top: 7, width: 1835, height: 944, border: '6px solid #000', boxSizing: 'border-box', pointerEvents: 'none' }} />
    </div>
  )
}
